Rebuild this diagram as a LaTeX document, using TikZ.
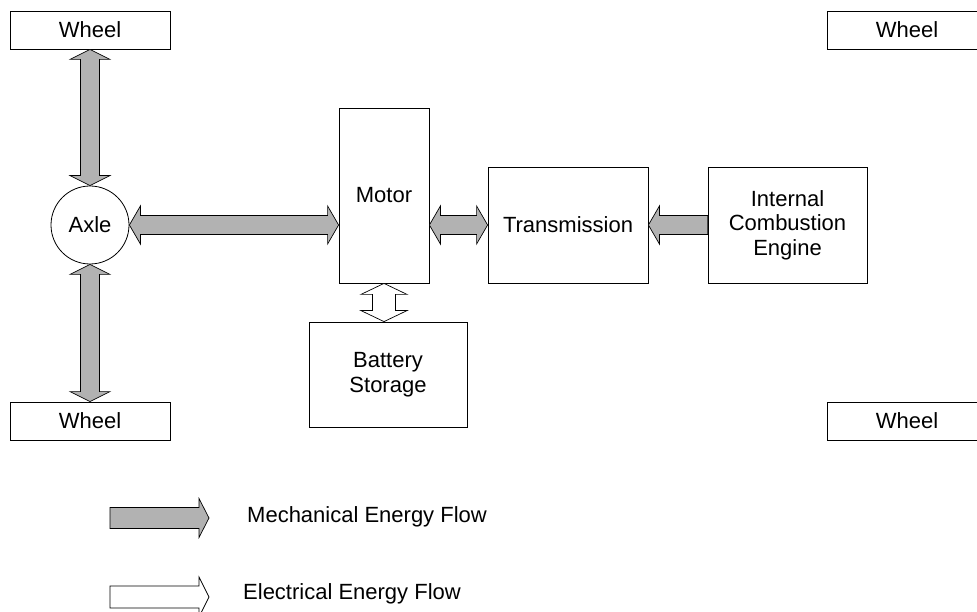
\documentclass[tikz,border=0pt]{standalone}
\usepackage{fontspec}
\setmainfont{Liberation Sans}
\usetikzlibrary{calc}
\tikzset{
  box/.style={draw=black, line width=0.8pt, inner sep=0pt, align=center, fill=white},
  mech/.style={draw=black, line width=0.7pt, fill=gray!60, line join=miter},
  elec/.style={draw=black, line width=0.7pt, fill=white, line join=miter},
  lbl/.style={inner sep=0pt, anchor=base west}
}
% horizontal double arrow: #1 style, #2 from, #3 to, #4 shaft half, #5 head half, #6 head length
\newcommand\hdbl[6]{%
\draw[#1] let \p1=(#2), \p2=(#3), \n1={sign(\x2-\x1)} in
 (\x1,\y1) -- ({\x1+\n1*#6},{\y1+#5}) -- ({\x1+\n1*#6},{\y1+#4}) -- ({\x2-\n1*#6},{\y1+#4})
 -- ({\x2-\n1*#6},{\y1+#5}) -- (\x2,\y1) -- ({\x2-\n1*#6},{\y1-#5}) -- ({\x2-\n1*#6},{\y1-#4})
 -- ({\x1+\n1*#6},{\y1-#4}) -- ({\x1+\n1*#6},{\y1-#5}) -- cycle;}
% horizontal single arrow, head at #3
\newcommand\hsgl[6]{%
\draw[#1] let \p1=(#2), \p2=(#3), \n1={sign(\x2-\x1)} in
 (\x1,{\y1+#4}) -- ({\x2-\n1*#6},{\y1+#4}) -- ({\x2-\n1*#6},{\y1+#5}) -- (\x2,\y1)
 -- ({\x2-\n1*#6},{\y1-#5}) -- ({\x2-\n1*#6},{\y1-#4}) -- (\x1,{\y1-#4}) -- cycle;}
% vertical double arrow
\newcommand\vdbl[6]{%
\draw[#1] let \p1=(#2), \p2=(#3), \n1={sign(\y2-\y1)} in
 (\x1,\y1) -- ({\x1+#5},{\y1+\n1*#6}) -- ({\x1+#4},{\y1+\n1*#6}) -- ({\x1+#4},{\y2-\n1*#6})
 -- ({\x1+#5},{\y2-\n1*#6}) -- (\x1,\y2) -- ({\x1-#5},{\y2-\n1*#6}) -- ({\x1-#4},{\y2-\n1*#6})
 -- ({\x1-#4},{\y1+\n1*#6}) -- ({\x1-#5},{\y1+\n1*#6}) -- cycle;}
\begin{document}
\begin{tikzpicture}[x=1pt, y=-1pt, font=\fontsize{22}{24.5}\selectfont]
\path[use as bounding box, clip] (0,0) rectangle (977,612);
\fill[white] (0,0) rectangle (977,612);

% wheels
\node[box, minimum width=160pt, minimum height=38pt] (wTL) at (90,30) {Wheel};
\node[box, minimum width=160pt, minimum height=38pt] (wTR) at (907,30) {Wheel};
\node[box, minimum width=160pt, minimum height=38pt] (wBL) at (90,421) {Wheel};
\node[box, minimum width=160pt, minimum height=38pt] (wBR) at (907,421) {Wheel};

% axle
\node[box, circle, minimum size=78pt] (axle) at (90,225) {Axle};

% motor, transmission, engine, battery
\node[box, minimum width=90pt, minimum height=175pt] (motor) at (384,195.5) {Motor};
\node[box, minimum width=160pt, minimum height=116pt] (trans) at (568,225) {Transmission};
\node[box, minimum width=159pt, minimum height=116pt] (ice) at (787.5,225) {Internal\\Combustion\\Engine};
\node[box, minimum width=158pt, minimum height=105pt] (batt) at (388,374.5) {Battery\\Storage};

% mechanical flows
\vdbl{mech}{wTL.south}{axle.north}{9.5pt}{20pt}{10pt}
\vdbl{mech}{axle.south}{wBL.north}{9.5pt}{20pt}{10pt}
\hdbl{mech}{axle.east}{motor.west |- axle.east}{9.5pt}{19pt}{11pt}
\hdbl{mech}{motor.east |- trans.west}{trans.west}{9.5pt}{19pt}{11pt}
\hsgl{mech}{ice.west}{trans.east}{9.5pt}{19pt}{11pt}

% electrical flow
\vdbl{elec}{motor.south}{motor.south |- batt.north}{11.5pt}{23pt}{11pt}

% legend
\coordinate (m1) at (110,518);
\coordinate (m2) at (209,518);
\coordinate (e1) at (110,597);
\coordinate (e2) at (209,597);
\hsgl{mech}{m1}{m2}{10.5pt}{19.5pt}{10pt}
\hsgl{elec}{e1}{e2}{11pt}{20pt}{10pt}
\node[lbl] (mlab) at (247,522) {Mechanical Energy Flow};
\node[lbl] (elab) at (243,599) {Electrical Energy Flow};
\end{tikzpicture}
\end{document}
